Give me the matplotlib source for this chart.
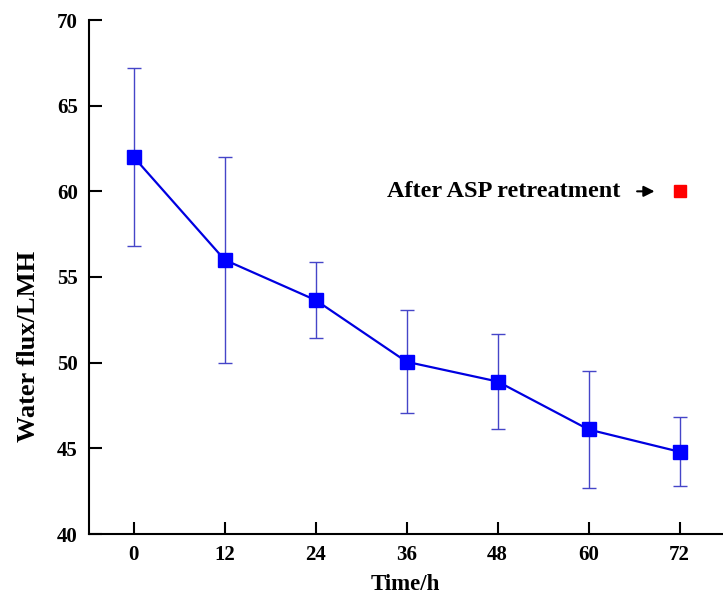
import numpy as np
import matplotlib
matplotlib.use('Agg')
import matplotlib.pyplot as plt

# Datos
tiempo = [0, 12, 24, 36, 48, 60, 72]
flujo = [62.0, 56.0, 53.65, 50.05, 48.9, 46.1, 44.8]
error = [5.2, 6.0, 2.2, 3.0, 2.8, 3.4, 2.0]

# Punto tras el retratamiento con ASP
t_asp = [72]
flujo_asp = [60.0]

plt.rcParams['font.family'] = ['Liberation Serif', 'DejaVu Serif']
plt.rcParams['font.weight'] = 'bold'

fig = plt.figure(figsize=(7.23, 6.02), dpi=100)
ax = fig.add_axes([89/723, 68/602, (722-89)/723, (534-20)/602])

ax.errorbar(tiempo, flujo, yerr=error, fmt='none', ecolor='#4545c8',
            elinewidth=1.0, capsize=5, capthick=1.0, zorder=2)
ax.plot(tiempo, flujo, color='#0000e0', lw=1.6, marker='s', markersize=10,
        markerfacecolor='#0000ff', markeredgecolor='#0000ff', zorder=3)
ax.plot(t_asp, flujo_asp, ls='none', marker='s', markersize=9,
        markerfacecolor='#ff0000', markeredgecolor='#ff0000', zorder=3)

ax.annotate('After ASP retreatment', xy=(t_asp[0], flujo_asp[0]),
            xytext=(64.2, flujo_asp[0]), ha='right', va='center',
            fontsize=17.5, fontweight='bold',
            arrowprops=dict(arrowstyle='-|>', color='black', lw=1.5,
                            mutation_scale=16, shrinkA=10, shrinkB=18))

ax.set_xlim(-5.9, 77.6)
ax.set_ylim(40, 70)
ax.set_xticks(tiempo)
ax.set_yticks([40, 45, 50, 55, 60, 65, 70])

for s in ['top', 'right']:
    ax.spines[s].set_visible(False)
for s in ['left', 'bottom']:
    ax.spines[s].set_linewidth(1.5)

ax.tick_params(direction='in', length=9, width=1.5, labelsize=15, pad=8)
for lab in ax.get_xticklabels() + ax.get_yticklabels():
    lab.set_fontweight('bold')

ax.set_xlabel('Time/h', fontsize=16.5, fontweight='bold')
ax.set_ylabel('Water flux/LMH', fontsize=19, fontweight='bold')
ax.xaxis.set_label_coords(0.5, -0.078)
ax.yaxis.set_label_coords(-0.077, 0.366)

fig.savefig('out.png', dpi=100)
